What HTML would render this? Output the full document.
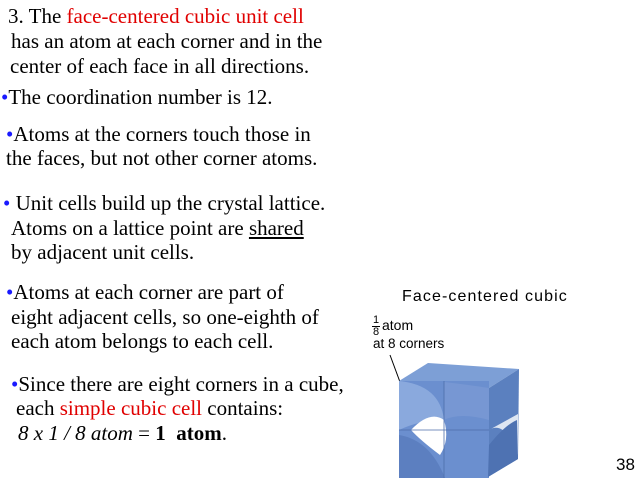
<!DOCTYPE html>
<html><head><style>
body{margin:0;width:640px;height:481px;background:#fff;position:relative;overflow:hidden;font-family:"Liberation Serif",serif;font-size:21px;color:#000}
.t{position:absolute;white-space:nowrap;line-height:24px}
.r{color:#e00000}
.b{color:#1a1aff}
.s{font-family:"Liberation Sans",sans-serif}
</style></head><body>
<div class="t" style="left:8px;top:4px">3. The <span class="r">face-centered cubic unit cell</span></div>
<div class="t" style="left:11px;top:29px">has an atom at each corner and in the</div>
<div class="t" style="left:10px;top:54px">center of each face in all directions.</div>
<div class="t" style="left:1px;top:85px"><span class="b">•</span>The coordination number is 12.</div>
<div class="t" style="left:6px;top:122px"><span class="b">•</span>Atoms at the corners touch those in</div>
<div class="t" style="left:6px;top:146px">the faces, but not other corner atoms.</div>
<div class="t" style="left:3px;top:191px"><span class="b">•</span> Unit cells build up the crystal lattice.</div>
<div class="t" style="left:11px;top:216px">Atoms on a lattice point are <u>shared</u></div>
<div class="t" style="left:11px;top:240px">by adjacent unit cells.</div>
<div class="t" style="left:6px;top:280px"><span class="b">•</span>Atoms at each corner are part of</div>
<div class="t" style="left:11px;top:305px">eight adjacent cells, so one-eighth of</div>
<div class="t" style="left:11px;top:329px">each atom belongs to each cell.</div>
<div class="t" style="left:11px;top:372px"><span class="b">•</span>Since there are eight corners in a cube,</div>
<div class="t" style="left:16px;top:396px">each <span class="r">simple cubic cell</span> contains:</div>
<div class="t" style="left:18px;top:421px"><i>8 x 1 / 8 atom</i> = <b>1 &nbsp;atom</b>.</div>
<div class="t s" style="left:402px;top:287px;font-size:16px;line-height:20px;letter-spacing:1.1px">Face-centered cubic</div>
<div class="t s" style="left:373px;top:314px;font-size:11px;line-height:12px">1</div>
<div style="position:absolute;left:372px;top:326px;width:8px;border-top:1px solid #000"></div>
<div class="t s" style="left:373px;top:326px;font-size:11px;line-height:12px">8</div>
<div class="t s" style="left:382px;top:317px;font-size:14px;line-height:16px">atom</div>
<div class="t s" style="left:373px;top:336px;font-size:13.5px;line-height:15px">at 8 corners</div>
<div class="t s" style="left:616px;top:455px;font-size:17px;line-height:20px">38</div>
<svg style="position:absolute;left:0;top:0" width="640" height="481">
<line x1="390" y1="355" x2="400" y2="382" stroke="#000" stroke-width="1"/>
<polygon points="399,381 428,363 519,369 489,388" fill="#7d9fd6"/>
<polygon points="489,388 519,369 518,459 488,477" fill="#5b80bf"/>
<rect x="399" y="381" width="90" height="97" fill="#6b8fcf"/>
<path d="M399,381 Q440,385 444,420 Q420,420 399,430Z" fill="#8aa9dd"/>
<path d="M444,420 Q460,412 489,420 L489,388 Q470,385 444,382Z" fill="#7797d3"/>
<path d="M411,430 Q430,410 444,420 Q450,440 440,455 Q420,440 411,430Z" fill="#fff"/>
<path d="M399,435 Q430,440 445,478 L399,478Z" fill="#5c7fc0"/>
<path d="M489,430 L518,414 L518,455 Q505,420 489,430Z" fill="#fff" opacity=".8"/>
<path d="M489,445 Q505,425 517,420 L518,459 L488,477Z" fill="#4e72b2"/>
<line x1="444" y1="381" x2="444" y2="478" stroke="#4d6eaa" stroke-width=".8"/>
<line x1="399" y1="430" x2="489" y2="430" stroke="#4d6eaa" stroke-width=".8"/>
</svg>
</body></html>
